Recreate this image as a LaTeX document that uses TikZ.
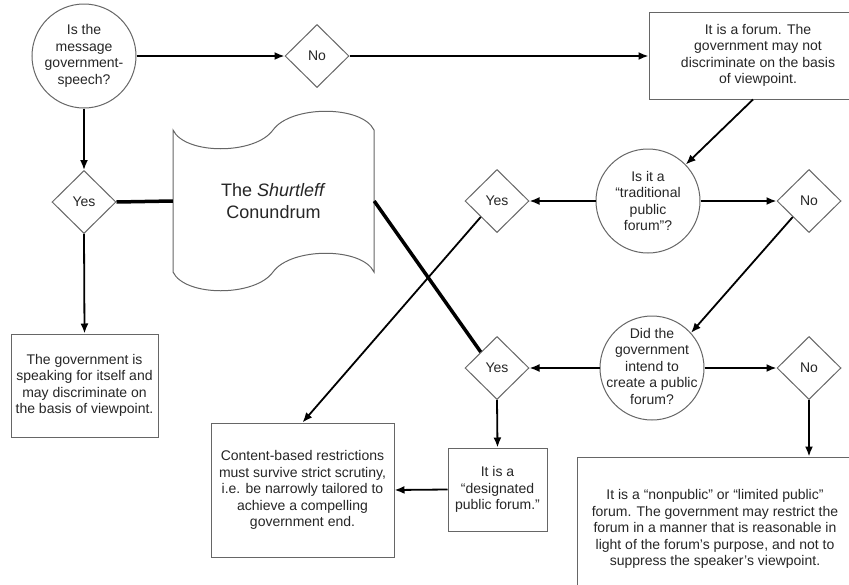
\documentclass[tikz,border=0pt]{standalone}
\usepackage{fontspec}
\setmainfont{Liberation Sans}
\usetikzlibrary{shapes.geometric,arrows.meta}
\newcommand\myfs{\fontsize{14}{16.5}\selectfont}
\newcommand\mybigfs{\fontsize{18}{21.5}\selectfont}
\tikzset{
  outl/.style={draw=black!60, line width=1pt},
  circ/.style={outl, circle, minimum size=104pt, inner sep=0pt},
  ctext/.style={align=center, font=\myfs, text=black!85, inner sep=0pt},
  dia/.style={outl, diamond, minimum width=64pt, minimum height=63pt, inner sep=0pt, font=\myfs, text=black!85},
  boxx/.style={outl, rectangle, inner sep=0pt, align=center, font=\myfs, text=black!85},
  arr/.style={line width=1.8pt, -{Latex[length=10pt,width=8pt]}},
  thickl/.style={line width=3.5pt}
}
\begin{document}
\begin{tikzpicture}[x=1pt,y=-1pt]
\useasboundingbox (0,0) rectangle (849,584);
\fill[white] (0,0) rectangle (849,584);
\clip (0,0) rectangle (849,584);

% circles
\node[circ] (c1) at (84,56) {};
\node[ctext] at (c1) {Is the\\message\\government-\\speech?};
\node[circ] (c2) at (648,201) {};
\node[ctext] at (c2) {Is it a\\“traditional\\public\\forum”?};
\node[circ] (c3) at (652,368) {};
\node[ctext] at ([yshift=2pt]c3.center) {Did the\\government\\intend to\\create a public\\forum?};

% diamonds
\node[dia] (no1) at (317,56) {No};
\node[dia] (yes1) at (84,202) {Yes};
\node[dia] (yesT) at (497,201) {Yes};
\node[dia] (noT) at (809,201) {No};
\node[dia] (yes2) at (497,368) {Yes};
\node[dia] (no2) at (809,368) {No};

% boxes
\node[boxx, minimum width=218pt, minimum height=87pt] (box1) at (758,55.5)
  {It is a forum. The\\government may not\\discriminate on the basis\\of viewpoint.};
\node[boxx, minimum width=147pt, minimum height=103pt] (gov) at (84.5,385.5)
  {The government is\\speaking for itself and\\may discriminate on\\the basis of viewpoint.};
\node[boxx, minimum width=183pt, minimum height=134pt] (content) at (302.5,490)
  {Content-based restrictions\\must survive strict scrutiny,\\i.e. be narrowly tailored to\\achieve a compelling\\government end.};
\node[boxx, minimum width=99pt, minimum height=83pt] (desig) at (497.5,489.5)
  {It is a\\“designated\\public forum.”};
\node[boxx, minimum width=276pt, minimum height=144pt] (big) at (715,529)
  {It is a “nonpublic” or “limited public”\\forum. The government may restrict the\\forum in a manner that is reasonable in\\light of the forum’s purpose, and not to\\suppress the speaker’s viewpoint.};

% scroll
\draw[outl] (173,130) .. controls (185,155) and (255,155) .. (273,130)
  .. controls (291,105) and (362,105) .. (374,130)
  -- (374,272) .. controls (362,247) and (291,247) .. (273,272)
  .. controls (255,297) and (185,297) .. (173,272) -- cycle;
\node[minimum width=201pt, minimum height=142pt, inner sep=0pt, align=center,
  font=\mybigfs, text=black!85] (scroll) at (273.5,201) {The \textit{Shurtleff}\\Conundrum};

% connectors
\draw[arr] (c1.east) -- (no1.west);
\draw[arr] (no1.east) -- (no1.east -| box1.west);
\draw[arr] (c1.south) -- (yes1.north);
\draw[arr] (yes1.south) -- (gov.north);
\draw[thickl] (yes1.east) -- (scroll.west);
\draw[thickl] (scroll.east) -- (yes2.north west);
\draw[arr] ([xshift=-5pt]box1.south) -- (c2.44);
\draw[arr] (c2.west) -- (yesT.east);
\draw[arr] (c2.east) -- (noT.west);
\draw[arr] (yesT.south west) -- (content.north);
\draw[arr] (noT.south west) -- (c3.42);
\draw[arr] (c3.west) -- (yes2.east);
\draw[arr] (c3.east) -- (no2.west);
\draw[arr] (yes2.south) -- (desig.north);
\draw[arr] (no2.south) -- (no2.south |- big.north);
\draw[arr] (desig.west) -- (content.east);
\end{tikzpicture}
\end{document}
